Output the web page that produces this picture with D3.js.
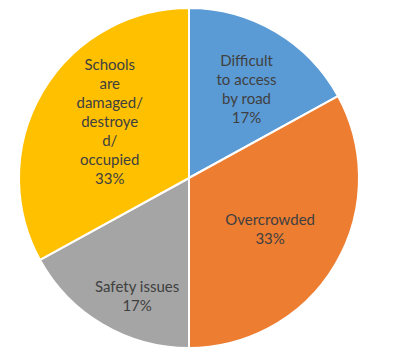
<!DOCTYPE html>
<html>
<head>
<meta charset="utf-8">
<script src="https://cdn.jsdelivr.net/npm/d3@7"></script>
<style>
  html, body { margin: 0; padding: 0; background: #fff; }
  svg { display: block; }
</style>
</head>
<body>
<svg id="chart" width="403" height="349"></svg>
<script>
// Reasons reported, in clockwise order from 12 o'clock
const categories = [
  "Difficult to access by road",
  "Overcrowded",
  "Safety issues",
  "Schools are damaged/ destroyed/ occupied"
];
const values = [17, 33, 17, 33];
const percentLabels = ["17%", "33%", "17%", "33%"];
// Wrapped label lines as shown inside each slice
const labelLines = [
  ["Difficult", "to access", "by road"],
  ["Overcrowded"],
  ["Safety issues"],
  ["Schools", "are", "damaged/", "destroye", "d/", "occupied"]
];
const colors = ["#5B9BD5", "#ED7D31", "#A5A5A5", "#FFC000"];

const svg = d3.select("#chart");
const cx = 189, cy = 178, radius = 170;

const pie = d3.pie().sort(null).value(d => d);
const arcs = pie(values);
const arc = d3.arc().innerRadius(0).outerRadius(radius);

const g = svg.append("g").attr("transform", `translate(${cx},${cy})`);

g.selectAll("path.slice")
  .data(arcs)
  .enter().append("path")
  .attr("class", "slice")
  .attr("d", arc)
  .attr("fill", (d, i) => colors[i])
  .attr("stroke", "#fff")
  .attr("stroke-width", 2)
  .attr("stroke-linejoin", "round");

// label placement: distance from centre and angular nudge per slice
const labelRadius = [106, 96, 129, 97];
const labelAngleShift = [0.04, 0.03, -0.12, 0.08];
const lineHeight = 19;

arcs.forEach((d, i) => {
  const a = (d.startAngle + d.endAngle) / 2 + labelAngleShift[i];
  const la = d3.arc().innerRadius(labelRadius[i]).outerRadius(labelRadius[i]);
  const [x, y] = la.centroid({startAngle: a, endAngle: a});
  const lines = labelLines[i].concat([percentLabels[i]]);
  const t = g.append("text")
    .attr("x", x)
    .attr("y", y - (lines.length - 1) * lineHeight / 2 + 5)
    .attr("text-anchor", "middle")
    .attr("font-family", "Lato, 'Open Sans', sans-serif")
    .attr("font-size", 15)
    .attr("fill", "#404040");
  lines.forEach((ln, k) => {
    t.append("tspan")
      .attr("x", x)
      .attr("dy", k === 0 ? 0 : lineHeight)
      .text(ln);
  });
});
</script>
</body>
</html>
